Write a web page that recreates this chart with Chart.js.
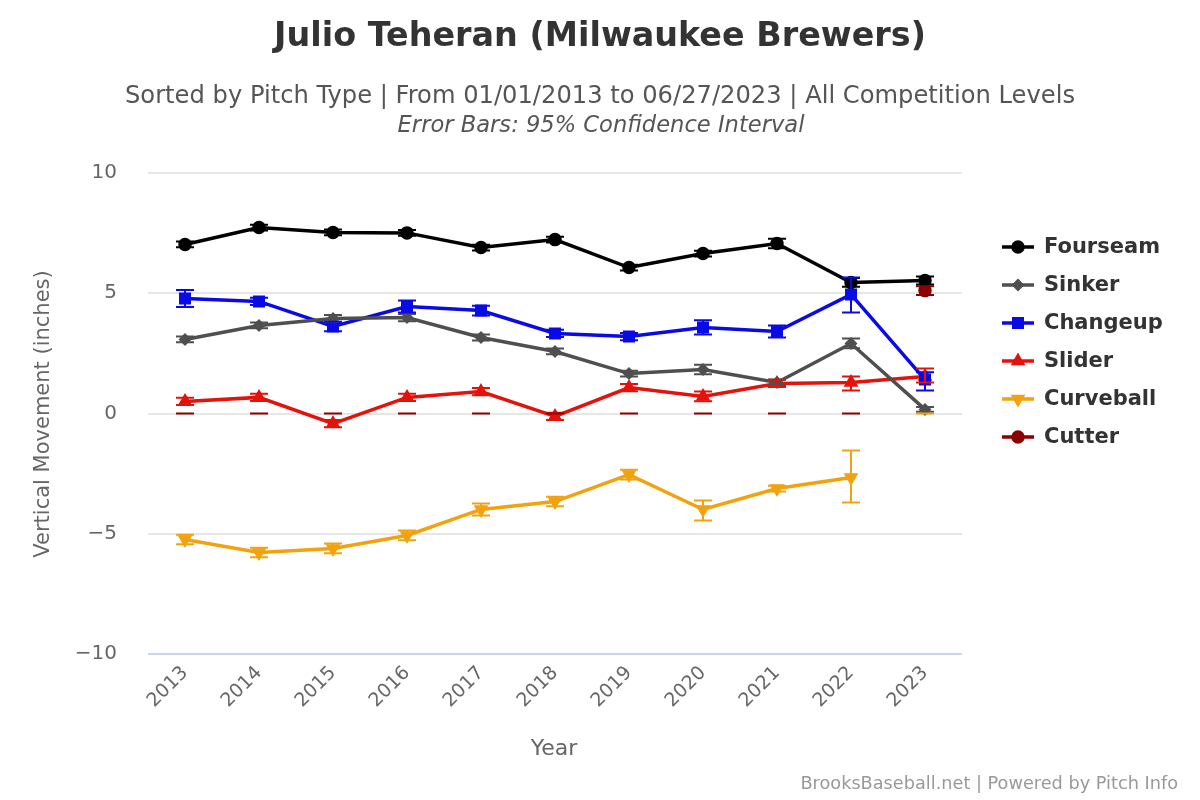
<!DOCTYPE html>
<html><head><meta charset="utf-8">
<script src="https://cdn.jsdelivr.net/npm/chart.js@4.4.0/dist/chart.umd.min.js"></script>
<style>html,body{margin:0;padding:0;background:#fff}#wrap{width:1200px;height:800px;position:relative}</style>
</head><body><div id="wrap"><canvas id="c" width="1200" height="800"></canvas></div>
<script>
const years = ['2013','2014','2015','2016','2017','2018','2019','2020','2021','2022','2023'];
const yTicks = [-10,-5,0,5,10];

const fourseam    = [7.03,7.73,7.53,7.51,6.90,7.23,6.07,6.65,7.07,5.45,5.53];
const fourseamLo  = [6.91,7.61,7.41,7.39,6.78,7.11,5.95,6.53,6.87,5.27,5.36];
const fourseamHi  = [7.15,7.85,7.65,7.63,7.02,7.35,6.19,6.77,7.27,5.63,5.70];

const sinker      = [3.08,3.66,3.95,3.99,3.16,2.58,1.66,1.83,1.29,2.91,0.17];
const sinkerLo    = [2.96,3.54,3.80,3.84,3.04,2.46,1.54,1.63,1.17,2.71,0.07];
const sinkerHi    = [3.20,3.78,4.10,4.14,3.28,2.70,1.78,2.03,1.41,3.12,0.27];

const changeup    = [4.78,4.66,3.62,4.45,4.28,3.33,3.20,3.58,3.41,4.95,1.41];
const changeupLo  = [4.43,4.51,3.42,4.20,4.08,3.18,3.05,3.28,3.16,4.20,0.96];
const changeupHi  = [5.13,4.81,3.82,4.70,4.48,3.48,3.35,3.88,3.66,5.65,1.72];

const slider      = [0.50,0.67,-0.42,0.67,0.91,-0.12,1.08,0.71,1.25,1.29,1.54];
const sliderLo    = [0.35,0.52,-0.57,0.52,0.76,-0.27,0.93,0.51,1.10,0.96,1.29];
const sliderHi    = [0.65,0.82,-0.27,0.82,1.06,0.03,1.23,0.91,1.40,1.54,1.87];

const curveball   = [-5.24,-5.78,-5.61,-5.07,-3.99,-3.66,-2.54,-3.99,-3.12,-2.66,null];
const curveballLo = [-5.44,-5.98,-5.81,-5.27,-4.24,-3.86,-2.74,-4.45,-3.24,-3.70,0];
const curveballHi = [-5.04,-5.58,-5.41,-4.87,-3.74,-3.46,-2.34,-3.62,-3.00,-1.54,0];

const cutter      = [null,null,null,null,null,null,null,null,null,null,5.11];
const cutterLo    = [0,0,0,0,0,0,0,0,0,0,4.93];
const cutterHi    = [0,0,0,0,0,0,0,0,0,0,5.29];

const titleText = 'Julio Teheran (Milwaukee Brewers)';
const subText = 'Sorted by Pitch Type | From 01/01/2013 to 06/27/2023 | All Competition Levels';
const subText2 = 'Error Bars: 95% Confidence Interval';
const creditText = 'BrooksBaseball.net | Powered by Pitch Info';
const FONT = '"DejaVu Sans", Verdana, sans-serif';

function ds(label, data, lo, hi, color, pointStyle, radius, rotation) {
  return {label, data, errLo: lo, errHi: hi, borderColor: color, backgroundColor: color,
    pointBackgroundColor: color, pointBorderColor: color, pointStyle, pointRadius: radius,
    pointHoverRadius: radius, pointRotation: rotation || 0, borderWidth: 3.5, tension: 0,
    spanGaps: false, clip: false};
}
const datasets = [
  ds('Fourseam', fourseam, fourseamLo, fourseamHi, '#000000', 'circle', 5),
  ds('Sinker', sinker, sinkerLo, sinkerHi, '#4f4f4f', 'rectRot', 4),
  ds('Changeup', changeup, changeupLo, changeupHi, '#0a0ae6', 'rect', 6),
  ds('Slider', slider, sliderLo, sliderHi, '#e3120b', 'triangle', 5),
  ds('Curveball', curveball, curveballLo, curveballHi, '#f2a20f', 'triangle', 5, 180),
  ds('Cutter', cutter, cutterLo, cutterHi, '#8b0000', 'circle', 5),
];

function fitFont(ctx, text, weight, style, targetW, base) {
  ctx.font = `${style} ${weight} ${base}px ${FONT}`;
  const w = ctx.measureText(text).width;
  const s = base * targetW / w;
  return `${style} ${weight} ${s.toFixed(2)}px ${FONT}`;
}

const errorBars = {
  id: 'errorBars',
  afterDatasetsDraw(chart) {
    const ctx = chart.ctx, xs = chart.scales.x, ys = chart.scales.y;
    chart.data.datasets.forEach((d) => {
      ctx.save();
      ctx.strokeStyle = d.borderColor;
      ctx.lineWidth = 2;
      d.errLo.forEach((lo, i) => {
        const hi = d.errHi[i];
        if (lo == null || hi == null) return;
        const x = xs.getPixelForValue(i);
        const y1 = ys.getPixelForValue(lo), y2 = ys.getPixelForValue(hi);
        ctx.beginPath();
        ctx.moveTo(x, y1); ctx.lineTo(x, y2);
        ctx.moveTo(x - 9, y1); ctx.lineTo(x + 9, y1);
        ctx.moveTo(x - 9, y2); ctx.lineTo(x + 9, y2);
        ctx.stroke();
      });
      ctx.restore();
    });
  }
};

const texts = {
  id: 'texts',
  afterDraw(chart) {
    const ctx = chart.ctx;
    ctx.save();
    ctx.textBaseline = 'middle';
    ctx.textAlign = 'center';
    ctx.fillStyle = '#333333';
    ctx.font = fitFont(ctx, titleText, 'bold', 'normal', 652, 32);
    ctx.fillText(titleText, 600, 37);
    ctx.fillStyle = '#555555';
    ctx.font = fitFont(ctx, subText, 'normal', 'normal', 950, 22);
    ctx.fillText(subText, 600, 97);
    ctx.font = fitFont(ctx, subText2, 'normal', 'italic', 407, 22);
    ctx.fillText(subText2, 601, 126);
    ctx.fillStyle = '#666666';
    ctx.font = `normal 22px ${FONT}`;
    ctx.fillText('Year', 554, 749);
    ctx.save();
    ctx.translate(44, 414);
    ctx.rotate(-Math.PI / 2);
    ctx.font = `normal 21px ${FONT}`;
    ctx.fillText('Vertical Movement (inches)', 0, 0);
    ctx.restore();
    ctx.textAlign = 'right';
    ctx.fillStyle = '#999999';
    ctx.font = fitFont(ctx, creditText, 'normal', 'normal', 378, 16);
    ctx.fillText(creditText, 1178, 784);
    const ly0 = 247, step = 38;
    chart.data.datasets.forEach((d, i) => {
      const y = ly0 + i * step;
      ctx.strokeStyle = d.borderColor;
      ctx.lineWidth = 3.5;
      ctx.beginPath(); ctx.moveTo(1002, y); ctx.lineTo(1034, y); ctx.stroke();
      Chart.helpers.drawPoint(ctx, {pointStyle: d.pointStyle, radius: d.pointRadius, rotation: d.pointRotation, borderWidth: 1}, 1018, y);
      ctx.fillStyle = d.borderColor;
      ctx.fill();
      ctx.fillStyle = '#333333';
      ctx.textAlign = 'left';
      ctx.font = `bold 21px ${FONT}`;
      ctx.fillText(d.label, 1044, y + 1);
    });
    ctx.restore();
  }
};

new Chart(document.getElementById('c'), {
  type: 'line',
  data: { labels: years, datasets },
  plugins: [errorBars, texts],
  options: {
    responsive: false, animation: false, devicePixelRatio: 1,
    layout: { padding: { left: 0, right: 238, top: 173, bottom: 0 } },
    plugins: { legend: { display: false }, title: { display: false }, tooltip: { enabled: false } },
    scales: {
      x: {
        offset: true,
        grid: { display: false, drawTicks: false },
        border: { display: false },
        ticks: { color: '#666666', font: { family: FONT, size: 19 }, maxRotation: 45, minRotation: 45, padding: 8 },
        afterFit(s) { s.height = 146; }
      },
      y: {
        min: -10, max: 10,
        afterBuildTicks(s) { s.ticks = yTicks.map(v => ({ value: v })); },
        grid: { color: (c) => c.tick && c.tick.value === -10 ? '#ccd6eb' : '#e6e6e6', lineWidth: 2, drawTicks: false },
        border: { display: false },
        ticks: { color: '#666666', font: { family: FONT, size: 20 }, padding: 31,
          callback: (v) => (v < 0 ? '\u2212' + Math.abs(v) : String(v)) },
        afterFit(s) { s.width = 148; }
      }
    }
  }
});
</script></body></html>
